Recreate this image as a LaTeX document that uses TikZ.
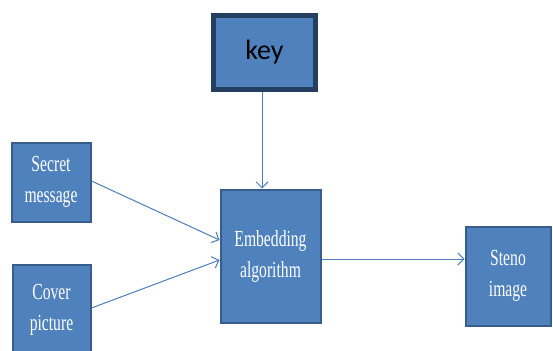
\documentclass[tikz,border=0pt]{standalone}
\usepackage{fontspec}
\setmainfont{Liberation Serif}[FakeStretch=0.68]
\newfontfamily\keyfont{Carlito}
\usetikzlibrary{arrows.meta}
\definecolor{boxfill}{HTML}{4F81BD}
\definecolor{boxedge}{HTML}{385D8A}
\definecolor{keyedge}{HTML}{243F60}
\definecolor{linkcol}{HTML}{4A7EBB}
\tikzset{
  block/.style={draw=boxedge, line width=2pt, fill=boxfill, text=white,
    align=center, inner sep=0pt, font=\fontsize{23}{31}\selectfont},
  keyblock/.style={draw=keyedge, line width=5pt, fill=boxfill, text=black,
    inner sep=0pt, font=\keyfont\fontsize{28}{30}\selectfont},
  link/.style={draw=linkcol, line width=1pt, -{Straight Barb[length=6pt,width=12pt,line width=1pt]}}
}
\begin{document}
\begin{tikzpicture}[x=1pt,y=-1pt]
  \useasboundingbox (0,0) rectangle (553,350);
  \begin{scope}
    \clip (0,0) rectangle (553,350);
    \node[keyblock, minimum width=102pt, minimum height=74pt] (key) at (264.5,52.5) {key};
    \node[block, minimum width=79pt, minimum height=79pt] (secret) at (51,182) {Secret\\message};
    \node[block, minimum width=78pt, minimum height=90pt] (cover) at (51.5,310) {Cover\\picture};
    \node[block, minimum width=100pt, minimum height=133pt] (embed) at (270.5,256) {Embedding\\algorithm};
    \node[block, minimum width=85pt, minimum height=99pt] (steno) at (508,276) {Steno\\image};
  \end{scope}
  \draw[link] (key.south -| 262,0) -- (embed.north -| 262,0);
  \draw[link] (secret.east |- 0,181) -- (embed.west |- 0,240);
  \draw[link] (cover.east |- 0,308) -- (embed.west |- 0,260);
  \draw[link] (embed.east |- 0,259) -- (steno.west |- 0,259);
\end{tikzpicture}
\end{document}
